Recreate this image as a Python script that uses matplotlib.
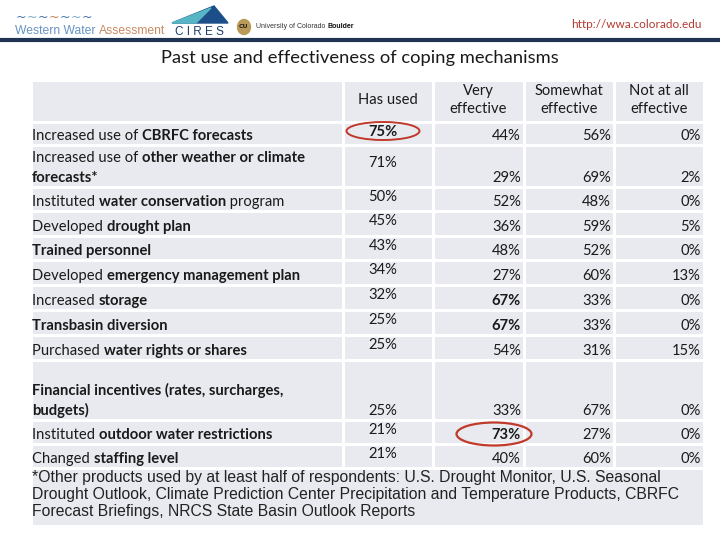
import matplotlib
matplotlib.use("Agg")
import matplotlib.pyplot as plt
from matplotlib.patches import Rectangle, Ellipse, Polygon

# table content
header = ["Has used", "Very\neffective", "Somewhat\neffective", "Not at all\neffective"]
labels = [
    [[("Increased use of ", False), ("CBRFC forecasts", True)]],
    [[("Increased use of ", False), ("other weather or climate", True)], [("forecasts*", True)]],
    [[("Instituted ", False), ("water conservation", True), (" program", False)]],
    [[("Developed ", False), ("drought plan", True)]],
    [[("Trained personnel", True)]],
    [[("Developed ", False), ("emergency management plan", True)]],
    [[("Increased ", False), ("storage", True)]],
    [[("Transbasin diversion", True)]],
    [[("Purchased ", False), ("water rights or shares", True)]],
    [[("Financial incentives (rates, surcharges,", True)], [("budgets)", True)]],
    [[("Instituted ", False), ("outdoor water restrictions", True)]],
    [[("Changed ", False), ("staffing level", True)]],
]
has_used = [75, 71, 50, 45, 43, 34, 32, 25, 25, 25, 21, 21]
very = [44, 29, 52, 36, 48, 27, 67, 67, 54, 33, 73, 40]
somewhat = [56, 69, 48, 59, 52, 60, 33, 33, 31, 67, 27, 60]
not_at_all = [0, 2, 0, 5, 0, 13, 0, 0, 15, 0, 0, 0]
bold_cells = [(0, 0), (6, 1), (7, 1), (10, 1)]   # (row, value column)
circled = [(0, 0), (10, 1)]
footnote = ("*Other products used by at least half of respondents: U.S. Drought Monitor, U.S. Seasonal\n"
            "Drought Outlook, Climate Prediction Center Precipitation and Temperature Products, CBRFC\n"
            "Forecast Briefings, NRCS State Basin Outlook Reports")

# layout (pixels)
col_x = [31, 343, 433, 524, 614, 704]
row_y = [80, 122, 145, 187, 211, 236, 260, 285, 310, 335, 360, 420, 444, 468]
foot_bottom = 525
cell_bg = "#e8eaef"
font = "Lato"
fs = 10.6

fig = plt.figure(figsize=(7.2, 5.4), dpi=100)
ax = fig.add_axes([0, 0, 1, 1])
ax.set_xlim(0, 720)
ax.set_ylim(540, 0)
ax.axis("off")
renderer = fig.canvas.get_renderer()

# header banner
t = ax.text(15, 31, "Western Water ", color="#6a93c2", fontsize=8.7, family="Liberation Sans", va="center")
ax.text(15 + t.get_window_extent(renderer).width, 31, "Assessment", color="#c98a62", fontsize=8.7,
        family="Liberation Sans", va="center")
for i, c in enumerate(["#3d6fa8", "#7aa7c9", "#3d6fa8", "#c47a4e", "#3d6fa8", "#7aa7c9", "#3d6fa8"]):
    ax.text(21 + i * 11, 17, "~", color=c, fontsize=9, va="center", ha="center")
ax.add_patch(Polygon([[172, 23], [228, 23], [214, 6]], closed=True, color="#1c4f8a"))
ax.add_patch(Polygon([[172, 23], [196, 23], [211, 8]], closed=True, color="#56b6c5"))
ax.text(199, 32, "C I R E S", fontsize=8.5, family="Liberation Sans", color="#1c3f6e", va="center", ha="center")
ax.add_patch(Ellipse((244, 27), 13, 15, color="#b99b57"))
ax.text(244, 27, "CU", fontsize=4.5, ha="center", va="center", color="#222222", weight="bold")
t = ax.text(256, 27, "University of Colorado ", fontsize=5, family="Liberation Sans", va="center", color="#333333")
ax.text(256 + t.get_window_extent(renderer).width, 27, "Boulder", fontsize=5, family="Liberation Sans",
        va="center", color="#111111", weight="bold")
ax.text(702, 24, "http://wwa.colorado.edu", fontsize=8.5, family=font, ha="right", va="center", color="#b23a30")
ax.plot([0, 720], [40, 40], color="#1f3553", lw=3)

ax.text(360, 58, "Past use and effectiveness of coping mechanisms", fontsize=13.2, family=font,
        ha="center", va="center", color="#1a1a1a")

# cell backgrounds
gap = 1.5
for j in range(len(col_x) - 1):
    for i in range(len(row_y) - 1):
        ax.add_patch(Rectangle((col_x[j] + gap, row_y[i] + gap), col_x[j + 1] - col_x[j] - 2 * gap,
                               row_y[i + 1] - row_y[i] - 2 * gap, color=cell_bg, lw=0))
ax.add_patch(Rectangle((col_x[0] + gap, row_y[-1] + gap), col_x[-1] - col_x[0] - 2 * gap,
                       foot_bottom - row_y[-1] - gap, color=cell_bg, lw=0))

# header text
for j, h in enumerate(header):
    cx = (col_x[j + 1] + col_x[j + 2]) / 2
    ax.text(cx, 100, h, fontsize=fs, family=font, ha="center", va="center", linespacing=1.3, color="#1a1a1a")


def draw_segments(x, y, segs):
    for txt, b in segs:
        t = ax.text(x, y, txt, fontsize=fs, family=font, weight="bold" if b else "normal",
                    va="baseline", ha="left", color="#1a1a1a")
        x += t.get_window_extent(renderer).width


# rows
for i in range(len(has_used)):
    top, bot = row_y[i + 1], row_y[i + 2]
    lines = labels[i]
    base = bot - 5
    for k, segs in enumerate(lines):
        draw_segments(col_x[0] + 1, base - (len(lines) - 1 - k) * 20, segs)
    vals = [has_used[i], very[i], somewhat[i], not_at_all[i]]
    for j, v in enumerate(vals):
        w = "bold" if (i, j) in bold_cells else "normal"
        if j == 0:
            x = (col_x[1] + col_x[2]) / 2 - 5
            y = top + 14 if bot - top < 30 else top + 22
            if bot - top > 50:
                y = bot - 5
            ax.text(x, y, f"{v}%", fontsize=fs, family=font, weight=w, ha="center", va="baseline", color="#1a1a1a")
        else:
            x = col_x[j + 2] - 3
            ax.text(x, bot - 5, f"{v}%", fontsize=fs, family=font, weight=w, ha="right", va="baseline", color="#1a1a1a")
        if (i, j) in circled:
            if j == 0:
                ax.add_patch(Ellipse(((col_x[1] + col_x[2]) / 2 - 5, top + 9), 73, 18,
                                     fill=False, ec="#c0392b", lw=1.4))
            else:
                ax.add_patch(Ellipse((col_x[j + 2] - 30, bot - 10), 75, 23,
                                     fill=False, ec="#c0392b", lw=1.6))

ax.text(col_x[0] + 1, row_y[-1] + 2, footnote, fontsize=11.3, family="Liberation Sans", va="top",
        ha="left", linespacing=1.18, color="#222222")

fig.savefig("out.png", dpi=100)
